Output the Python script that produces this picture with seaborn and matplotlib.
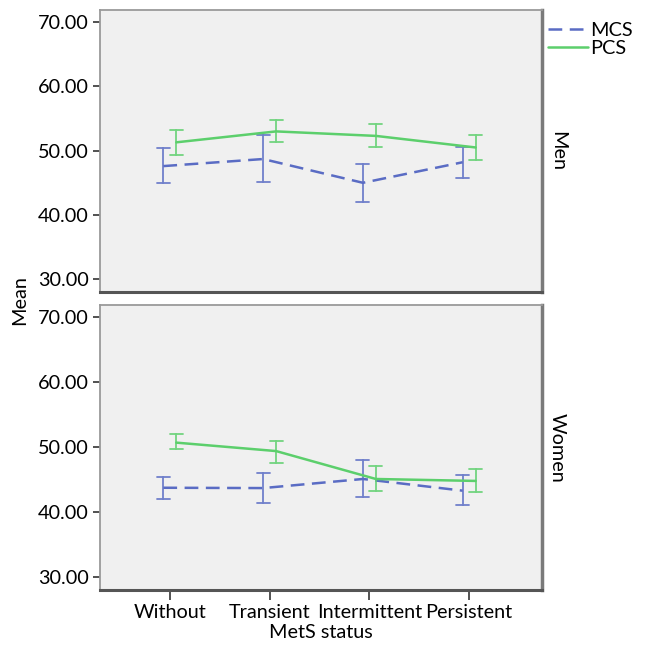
import numpy as np
import pandas as pd
import seaborn as sns
import matplotlib
matplotlib.use("Agg")
import matplotlib.pyplot as plt

sns.set_theme(style="white")
plt.rcParams["font.family"] = ["Lato", "DejaVu Sans"]
plt.rcParams["text.color"] = "black"
plt.rcParams["xtick.color"] = "black"
plt.rcParams["ytick.color"] = "black"
plt.rcParams["axes.labelcolor"] = "black"

status = ["Without", "Transient", "Intermittent", "Persistent"]
scales = ["MCS", "PCS"]
panels = ["Men", "Women"]

# means with lower / upper error bar ends
men_mcs_mean = [47.6, 48.7, 45.0, 48.2]
men_mcs_lo = [44.9, 45.1, 42.0, 45.8]
men_mcs_hi = [50.4, 52.4, 47.9, 50.6]
men_pcs_mean = [51.3, 53.0, 52.3, 50.5]
men_pcs_lo = [49.3, 51.3, 50.5, 48.5]
men_pcs_hi = [53.2, 54.7, 54.1, 52.4]

women_mcs_mean = [43.75, 43.7, 45.1, 43.3]
women_mcs_lo = [42.0, 41.4, 42.4, 41.1]
women_mcs_hi = [45.4, 46.0, 48.1, 45.7]
women_pcs_mean = [50.7, 49.4, 45.1, 44.8]
women_pcs_lo = [49.7, 47.6, 43.3, 43.1]
women_pcs_hi = [52.0, 51.0, 47.1, 46.6]

yticks = [30, 40, 50, 60, 70]

colors = {"MCS": "#5a6cc4", "PCS": "#5ccf6c"}


def long_frame(sex, scale, mean, lo, hi):
    # three rows per point: median -> mean, min/max -> bar ends
    rows = []
    for s, m, a, b in zip(status, mean, lo, hi):
        for v in (a, m, b):
            rows.append({"sex": sex, "scale": scale, "status": s, "value": v})
    return rows


rows = []
rows += long_frame("Men", "MCS", men_mcs_mean, men_mcs_lo, men_mcs_hi)
rows += long_frame("Men", "PCS", men_pcs_mean, men_pcs_lo, men_pcs_hi)
rows += long_frame("Women", "MCS", women_mcs_mean, women_mcs_lo, women_mcs_hi)
rows += long_frame("Women", "PCS", women_pcs_mean, women_pcs_lo, women_pcs_hi)
df = pd.DataFrame(rows)

fig = plt.figure(figsize=(6.6, 6.5), dpi=100)
axes = [
    fig.add_axes([100 / 660, 1 - 292 / 650, 442 / 660, 282 / 650]),
    fig.add_axes([100 / 660, 1 - 590 / 650, 442 / 660, 285 / 650]),
]

fs = 14.3
dash = (0, (5.5, 3))

for ax, sex in zip(axes, panels):
    ax.set_facecolor("#f0f0f0")
    sns.pointplot(
        data=df[df["sex"] == sex],
        x="status",
        y="value",
        hue="scale",
        order=status,
        hue_order=scales,
        palette=colors,
        estimator="median",
        errorbar=lambda v: (v.min(), v.max()),
        dodge=0.13,
        linestyles=[dash, "-"],
        markers=["o", "o"],
        markersize=0,
        linewidth=1.8,
        capsize=0.13,
        err_kws={"linewidth": 1.3, "alpha": 0.85},
        legend=False,
        ax=ax,
    )
    ax.set_xlim(-0.7, 3.73)
    ax.set_ylim(28.0, 71.9)
    ax.set_yticks(yticks)
    ax.set_yticklabels([f"{t:.2f}" for t in yticks])
    ax.set_xlabel("")
    ax.set_ylabel("")
    ax.tick_params(axis="y", left=True, length=5, width=1.2, color="#333333",
                   labelsize=fs, pad=3)
    ax.tick_params(axis="x", bottom=True, length=7, width=1.2, color="#333333",
                   labelsize=fs, pad=3)
    for side in ["left", "top"]:
        ax.spines[side].set_color("#9a9a9a")
        ax.spines[side].set_linewidth(1.3)
    ax.spines["right"].set_color("#7a7a7a")
    ax.spines["right"].set_linewidth(2.5)
    ax.spines["bottom"].set_color("#555555")
    ax.spines["bottom"].set_linewidth(2.2)
    ax.text(1.035, 0.5, sex, transform=ax.transAxes, rotation=-90,
            ha="center", va="center", fontsize=fs)

axes[0].tick_params(axis="x", bottom=False, labelbottom=False)
axes[1].set_xlabel("MetS status", fontsize=fs, labelpad=2)

fig.text(20 / 660, 1 - 300 / 650, "Mean", rotation=90, ha="center",
         va="center", fontsize=fs)

# legend built from the same line styles
handles = [
    plt.Line2D([], [], color=colors["MCS"], linestyle=dash, linewidth=1.8),
    plt.Line2D([], [], color=colors["PCS"], linestyle="-", linewidth=1.8),
]
fig.legend(handles, scales, loc="upper left", bbox_to_anchor=(548 / 660, 1 - 22 / 650),
           frameon=False, fontsize=fs, handlelength=2.0, handletextpad=0.1,
           labelspacing=0.05, borderpad=0, borderaxespad=0)

fig.savefig("out.png", dpi=100)
